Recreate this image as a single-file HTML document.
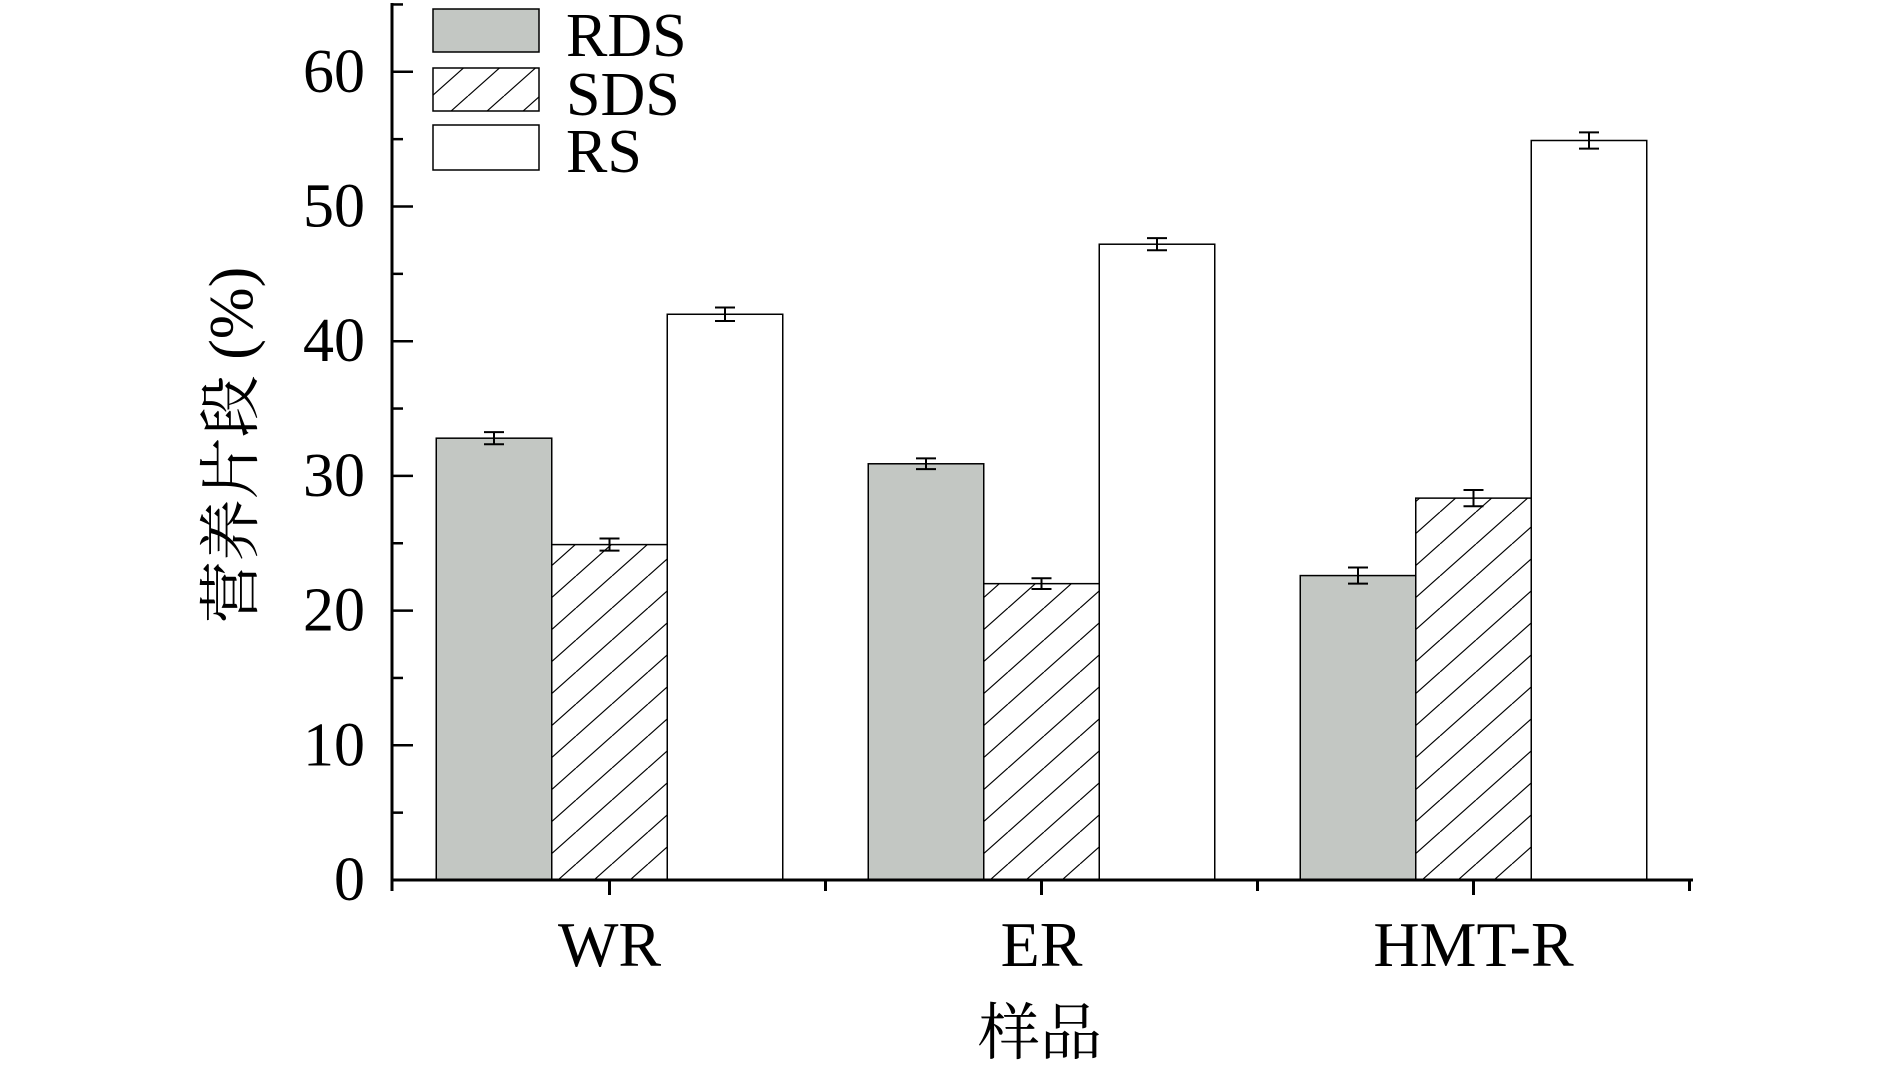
<!DOCTYPE html>
<html><head><meta charset="utf-8"><style>
html,body{margin:0;padding:0;background:#fff;width:1890px;height:1069px;overflow:hidden}
svg text{font-family:"Liberation Serif","Noto Serif CJK SC",serif;fill:#000}
</style></head><body>
<svg id="chart" width="1890" height="1069" viewBox="0 0 1890 1069" xmlns="http://www.w3.org/2000/svg">
<defs>
<pattern id="hatch" patternUnits="userSpaceOnUse" width="36" height="32">
<line x1="0" y1="32" x2="36" y2="0" stroke="#000" stroke-width="1.2"/>
<line x1="-36" y1="32" x2="0" y2="0" stroke="#000" stroke-width="1.2"/>
<line x1="36" y1="32" x2="72" y2="0" stroke="#000" stroke-width="1.2"/>
</pattern>
</defs>
<g id="bars"></g>
<g id="axes"></g>
<g id="legend">
<rect x="433" y="9" width="106" height="43" fill="#c3c7c3" stroke="#000" stroke-width="1.5"/>
<text x="566" y="56" font-size="62">RDS</text>
<rect x="433" y="68" width="106" height="43" fill="url(#hatch)" stroke="#000" stroke-width="1.5"/>
<text x="566" y="115" font-size="62">SDS</text>
<rect x="433" y="125" width="106" height="45" fill="#fff" stroke="#000" stroke-width="1.5"/>
<text x="566" y="172" font-size="62">RS</text>
</g>
<text transform="translate(252,445) rotate(-90)" text-anchor="middle" font-size="62">营养片段 (%)</text>
<text x="1040" y="1054" text-anchor="middle" font-size="62">样品</text>
</svg>
<script>
const categories = ["WR", "ER", "HMT-R"];
const seriesNames = ["RDS", "SDS", "RS"];
const rdsValues = [32.8, 30.9, 22.6];
const sdsValues = [24.9, 22.0, 28.35];
const rsValues = [42.0, 47.2, 54.9];
const rdsErr = [0.45, 0.4, 0.6];
const sdsErr = [0.45, 0.4, 0.6];
const rsErr = [0.5, 0.45, 0.6];
const yTicks = [0, 10, 20, 30, 40, 50, 60];

const NS = "http://www.w3.org/2000/svg";
const x0 = 392, y0 = 880, pxPerUnit = 13.47;
const groupW = 432, barW = 115.5, firstCenter = 609.5;
function yScale(v){ return y0 - v * pxPerUnit; }
function xCenter(i){ return firstCenter + i * groupW; }
function mk(tag, attrs, parent){
  const e = document.createElementNS(NS, tag);
  for (const k in attrs) e.setAttribute(k, attrs[k]);
  parent.appendChild(e); return e;
}
const bars = document.getElementById('bars');
const axes = document.getElementById('axes');
const series = [rdsValues, sdsValues, rsValues];
const errs = [rdsErr, sdsErr, rsErr];
const fills = ["#c3c7c3", "url(#hatch)", "#fff"];
categories.forEach((c, i) => {
  series.forEach((vals, s) => {
    const x = xCenter(i) + (s - 1.5) * barW;
    const y = yScale(vals[i]);
    const r = mk('rect', {x: x, y: y, width: barW, height: y0 - y, fill: fills[s], stroke: "#000", "stroke-width": 1.5}, bars);
    
    
    const cx = x + barW / 2, e = errs[s][i];
    const g = mk('g', {stroke: "#000", "stroke-width": 2}, bars);
    
    
    mk('line', {x1: cx, x2: cx, y1: yScale(vals[i] + e), y2: yScale(vals[i] - e)}, g);
    mk('line', {x1: cx - 10, x2: cx + 10, y1: yScale(vals[i] + e), y2: yScale(vals[i] + e)}, g);
    mk('line', {x1: cx - 10, x2: cx + 10, y1: yScale(vals[i] - e), y2: yScale(vals[i] - e)}, g);
  });
  const lbl = mk('text', {x: xCenter(i), y: 966, "text-anchor": "middle", "font-size": 64}, axes);
  lbl.textContent = c;
  
  
  mk('line', {x1: xCenter(i), x2: xCenter(i), y1: y0, y2: y0 + 15, stroke: "#000", "stroke-width": 3}, axes);
  mk('line', {x1: xCenter(i) + groupW/2, x2: xCenter(i) + groupW/2, y1: y0, y2: y0 + 11, stroke: "#000", "stroke-width": 3}, axes);
});
const yAxis = mk('line', {x1: x0, x2: x0, y1: 3, y2: y0 + 11, stroke: "#000", "stroke-width": 3}, axes);


const xAxis = mk('line', {x1: x0 - 1.5, x2: 1693, y1: y0, y2: y0, stroke: "#000", "stroke-width": 3}, axes);


yTicks.forEach(t => {
  const y = yScale(t);
  mk('line', {x1: x0, x2: x0 + 21, y1: y, y2: y, stroke: "#000", "stroke-width": 2.5}, axes);
  if (t + 5 <= 65) mk('line', {x1: x0, x2: x0 + 11, y1: yScale(t + 5), y2: yScale(t + 5), stroke: "#000", "stroke-width": 2.5}, axes);
  const tl = mk('text', {x: 365, y: y + 20, "text-anchor": "end", "font-size": 62}, axes);
  tl.textContent = t;
  
  
});
</script>
</body></html>
